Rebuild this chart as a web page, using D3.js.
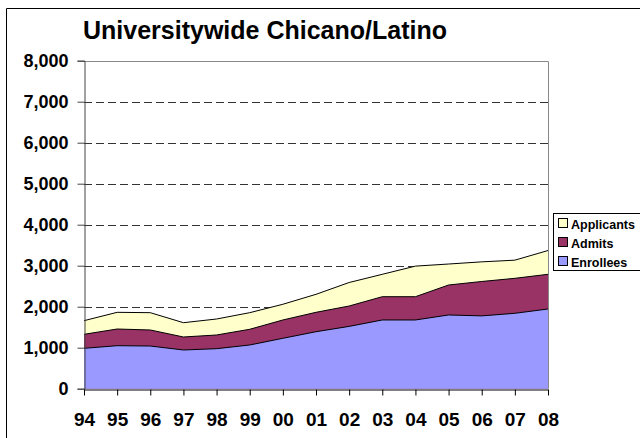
<!DOCTYPE html>
<html><head><meta charset="utf-8">
<script src="https://cdn.jsdelivr.net/npm/d3@7"></script>
<style>body{margin:0;background:#fff}svg{display:block}text{font-family:"Liberation Sans",Arial,sans-serif;font-weight:bold}</style>
</head><body><svg id="c" width="640" height="438"></svg>
<script>
const years = ["94","95","96","97","98","99","00","01","02","03","04","05","06","07","08"];
const applicants = [1659,1863,1854,1610,1700,1854,2059,2302,2590,2790,2990,3041,3094,3135,3370];
const admits     = [1326,1456,1432,1261,1310,1449,1676,1863,2017,2244,2244,2529,2615,2692,2790];
const enrollees  = [985,1049,1041,944,976,1066,1229,1390,1520,1676,1676,1798,1776,1839,1944];
const yTicks = [0,1000,2000,3000,4000,5000,6000,7000,8000];
const seriesNames = ["Applicants","Admits","Enrollees"];
const seriesColors = ["#FFFFCC","#993366","#9999FF"];
const seriesData = [applicants, admits, enrollees];

const svg = d3.select("#c");
const L = 84, R = 548, T = 60.7, B = 388.7;
const x = d3.scalePoint().domain(years).range([L, R]);
const y = d3.scaleLinear().domain([0, 8000]).range([B, T]);

// outer frame
svg.append("path").attr("d", `M6.5,438 V8.5 H640`).attr("fill","none").attr("stroke","#000").attr("stroke-width",1);

// title
svg.append("text").attr("x", 265).attr("y", 39).attr("text-anchor","middle")
  .attr("font-size", 25).text("Universitywide Chicano/Latino");

// gridlines
svg.append("g").selectAll("line").data(yTicks.filter(d => d > 0 && d < 8000)).join("line")
  .attr("x1", L).attr("x2", R).attr("y1", d => Math.round(y(d))+0.5).attr("y2", d => Math.round(y(d))+0.5)
  .attr("stroke","#333").attr("stroke-dasharray","8,4");

// plot border
svg.append("path").attr("d", `M${L},${Math.round(T)+0.5} H${R+0.5} V${B}`).attr("fill","none").attr("stroke","#888");

// areas
const area = d3.area().x((d,i) => x(years[i])).y0(y(0)).y1(d => y(d));
const line = d3.line().x((d,i) => x(years[i])).y(d => y(d));
seriesData.forEach((s, k) => {
  svg.append("path").attr("d", area(s)).attr("fill", seriesColors[k]);
  svg.append("path").attr("d", line(s)).attr("fill","none").attr("stroke","#000").attr("stroke-width",1);
});

// y axis
const yAxis = d3.axisLeft(y).tickValues(yTicks).tickSize(7).tickPadding(9).tickFormat(d3.format(","));
const gy = svg.append("g").attr("transform", `translate(${L+0.5},0)`).call(yAxis);
gy.select(".domain").attr("stroke","#444");
gy.selectAll(".tick line").attr("stroke","#444");
gy.selectAll("text").attr("font-size", 18).attr("fill","#000");

// x axis
const xAxis = d3.axisBottom(x).tickSize(6).tickSizeOuter(0).tickPadding(17);
const gx = svg.append("g").attr("transform", `translate(0,${Math.round(B)+0.5})`).call(xAxis);
gx.select(".domain").attr("stroke","#000");
gx.selectAll(".tick line").attr("stroke","#000");
gx.selectAll("text").attr("font-size", 19).attr("fill","#000");

// legend
const lg = svg.append("g");
lg.append("rect").attr("x", 553.5).attr("y", 213.5).attr("width", 100).attr("height", 57)
  .attr("fill","#fff").attr("stroke","#000");
seriesNames.forEach((n, i) => {
  const cy = 224 + i*19;
  lg.append("rect").attr("x", 558.5).attr("y", cy-5.5).attr("width", 9).attr("height", 9)
    .attr("fill", seriesColors[i]).attr("stroke","#000");
  lg.append("text").attr("x", 571).attr("y", cy+4.5).attr("font-size", 12.5).text(n);
});
</script></body></html>
